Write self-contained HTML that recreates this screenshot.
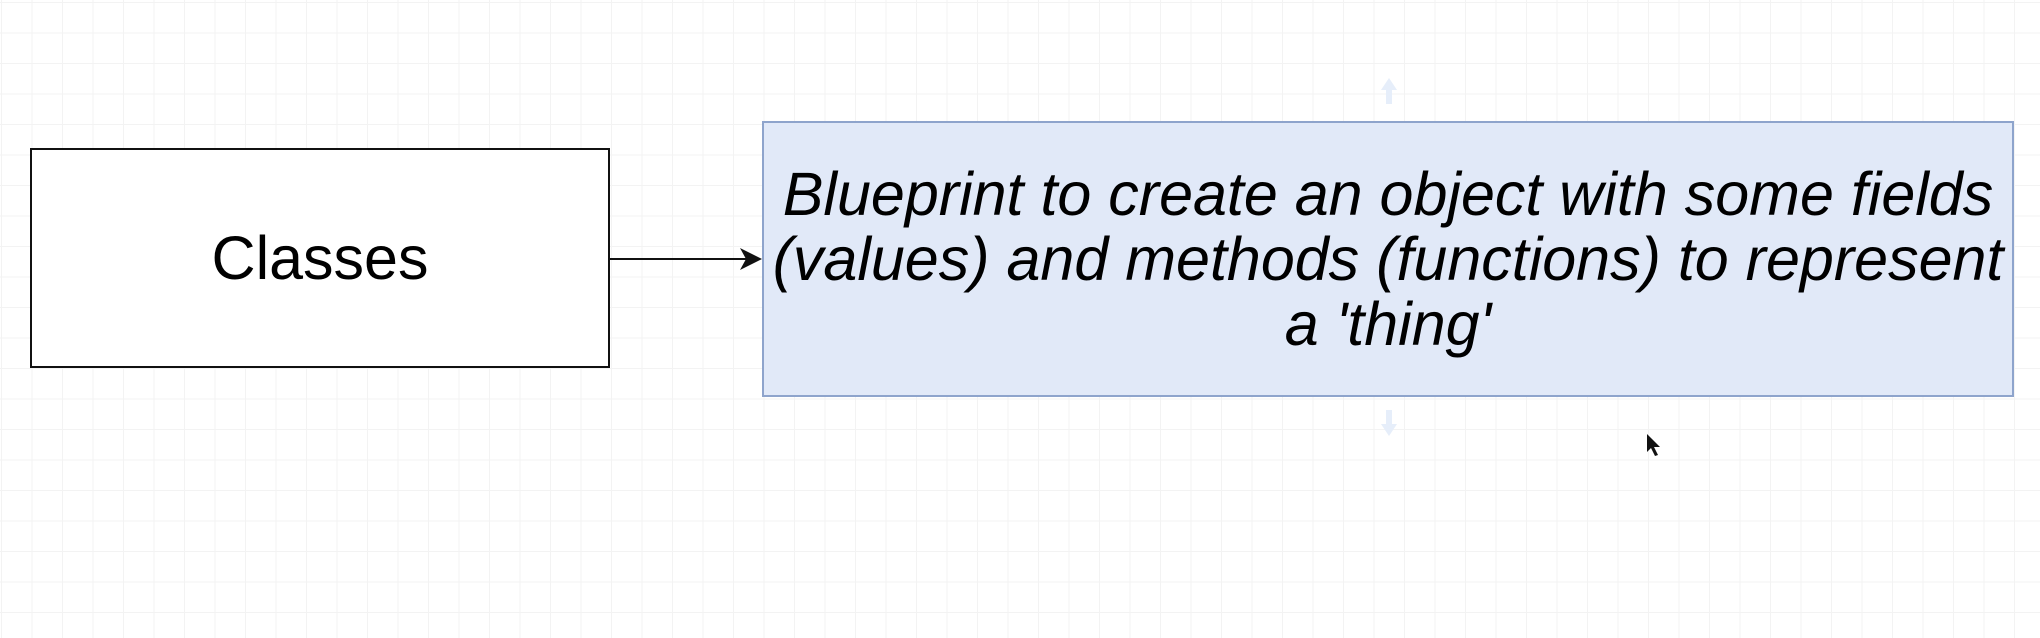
<!DOCTYPE html>
<html><head><meta charset="utf-8"><style>
html,body{margin:0;padding:0}
body{width:2040px;height:638px;position:relative;overflow:hidden;background:#fff;
background-image:linear-gradient(to right,#f3f3f3 1px,transparent 1px),linear-gradient(to bottom,#f3f3f3 1px,transparent 1px);
background-size:30.5px 30.5px;background-position:1px 2px;font-family:"Liberation Sans",sans-serif}
.b1{position:absolute;left:30px;top:148px;width:576px;height:216px;border:2px solid #111;background:#fff;
display:flex;align-items:center;justify-content:center;font-size:61px;color:#000}
.b2{position:absolute;left:762px;top:121px;width:1248px;height:272px;border:2px solid #8ea4cc;background:#e1e9f8;
display:flex;align-items:center;justify-content:center;text-align:center;font-style:italic;font-size:61px;line-height:65px;color:#000;white-space:nowrap}
svg{position:absolute;left:0;top:0}
</style></head><body>
<div class="b1">Classes</div>
<div class="b2"><div>Blueprint to create an object with some fields<br>(values) and methods (functions) to represent<br>a 'thing'</div></div>
<svg width="2040" height="638">
<line x1="610" y1="259" x2="750" y2="259" stroke="#111" stroke-width="2"/>
<polygon points="762,259 740,248 746,259 740,270" fill="#111"/>
<g fill="#e6eefa" stroke="none">
<polygon points="1389,78 1381,90 1386,90 1386,104 1392,104 1392,90 1397,90"/>
<polygon points="1389,436 1381,424 1386,424 1386,410 1392,410 1392,424 1397,424"/>
</g>
<polygon points="1647,434 1647,452 1651,448 1655,456 1658,455 1654,447 1660,447" fill="#111"/>
</svg>
</body></html>
